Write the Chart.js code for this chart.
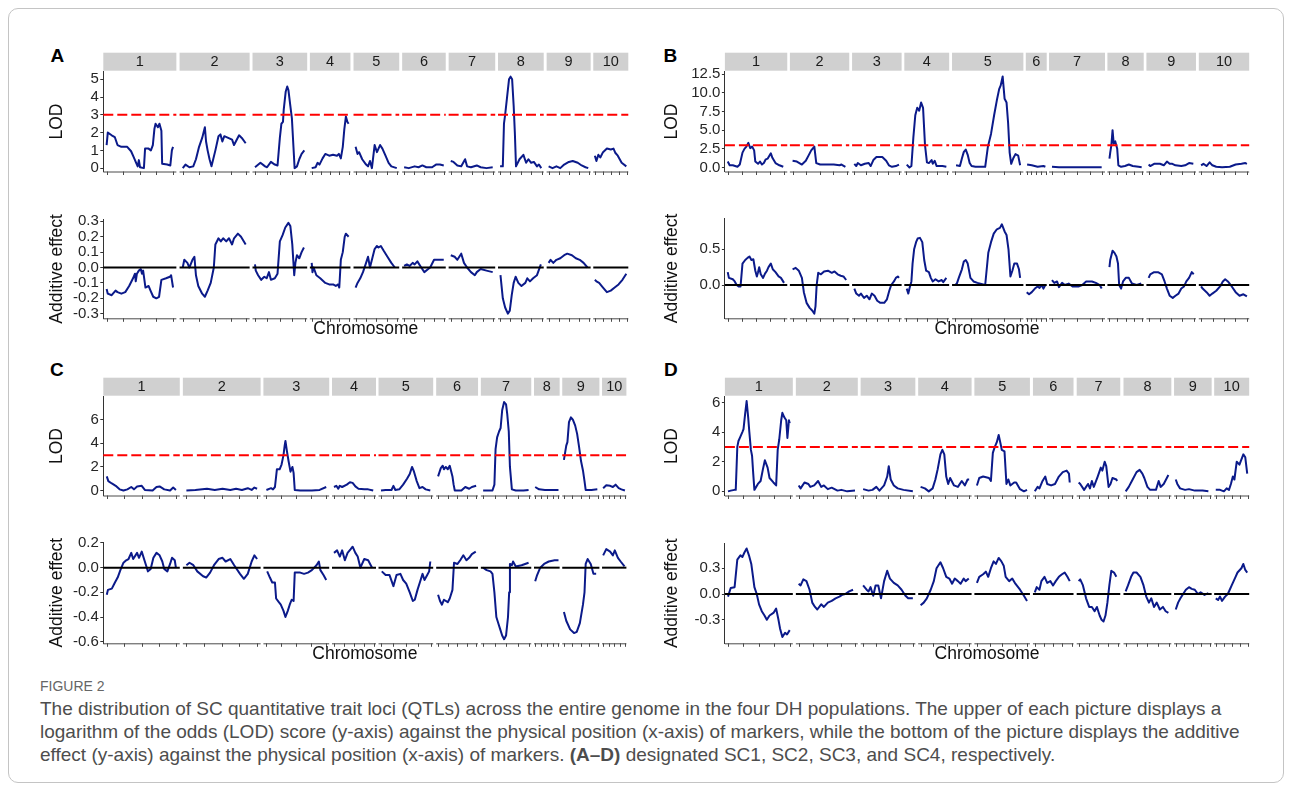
<!DOCTYPE html>
<html>
<head>
<meta charset="utf-8">
<script src="https://cdn.jsdelivr.net/npm/chart.js@4.4.1/dist/chart.umd.min.js"></script>
<style>
  body { margin: 0; width: 1292px; height: 791px; background: #fff; position: relative; overflow: hidden;
         font-family: 'Liberation Sans', Arial, sans-serif; }
  #frame { position: absolute; left: 8px; top: 8px; width: 1276px; height: 775px; box-sizing: border-box;
           border: 1px solid #c4c4c4; border-radius: 10px; }
  canvas { position: absolute; }
  .letter { position: absolute; font-weight: bold; font-size: 19px; line-height: 19px; color: #000; }
  #figlabel { position: absolute; left: 40px; top: 677px; font-size: 14px; line-height: 18px; color: #666; }
  #caption { position: absolute; left: 40px; top: 697px; font-size: 19px; line-height: 23px; color: #4d4d4d; white-space: nowrap; }
</style>
</head>
<body>
<div id="frame"></div>
<div class="letter" style="left:50.5px;top:45.7px">A</div>
<div class="letter" style="left:663.5px;top:45.7px">B</div>
<div class="letter" style="left:50px;top:359.7px">C</div>
<div class="letter" style="left:664px;top:359.7px">D</div>
<canvas id="lodA"></canvas>
<canvas id="addA"></canvas>
<canvas id="lodB"></canvas>
<canvas id="addB"></canvas>
<canvas id="lodC"></canvas>
<canvas id="addC"></canvas>
<canvas id="lodD"></canvas>
<canvas id="addD"></canvas>
<div id="figlabel">FIGURE 2</div>
<div id="caption">The distribution of SC quantitative trait loci (QTLs) across the entire genome in the four DH populations. The upper of each picture displays a<br>logarithm of the odds (LOD) score (y-axis) against the physical position (x-axis) of markers, while the bottom of the picture displays the additive<br>effect (y-axis) against the physical position (x-axis) of markers. <b>(A–D)</b> designated SC1, SC2, SC3, and SC4, respectively.</div>
<script>
'use strict';
const chromLabels = ['1', '2', '3', '4', '5', '6', '7', '8', '9', '10'];
const lodThreshold = 3;

// first / last marker of every chromosome, genome-wide position
const chrA = [[172,343],[368,532],[554,682],[700,795],[813,920],[938,1040],[1058,1167],[1185,1292],[1310,1413],[1429,1511]];
const chrB = [[187,333],[354,493],[513,629],[647,752],[773,940],[957,1006],[1021,1152],[1169,1254],[1271,1387],[1406,1524]];
const chrC = [[172,351],[377,559],[583,737],[757,860],[878,1006],[1025,1123],[1141,1259],[1275,1335],[1349,1436],[1450,1507]];
const chrD = [[188,347],[370,515],[536,664],[684,809],[829,959],[978,1073],[1091,1193],[1212,1324],[1341,1429],[1444,1526]];

// y tick values
const lodTicksA = [0, 1, 2, 3, 4, 5];
const addTicksA = [-0.3, -0.2, -0.1, 0, 0.1, 0.2, 0.3];
const lodTicksB = [0, 2.5, 5, 7.5, 10, 12.5];
const addTicksB = [0, 0.5];
const lodTicksC = [0, 2, 4, 6];
const addTicksC = [-0.6, -0.4, -0.2, 0, 0.2];
const lodTicksD = [0, 2, 4, 6];
const addTicksD = [-0.3, 0, 0.3];

// SC1
const lodA = [
  [[172,1.3],[175,2.0],[185,1.85],[193,1.75],[200,1.3],[210,1.2],[225,1.2],[235,0.95],[242,0.6],[248,0.3],[252,0.1],[255,0.45],[258,0.05],[268,0.0],[271,1.1],[280,1.1],[286,1.0],[291,1.3],[295,2.2],[298,2.5],[304,2.3],[308,2.5],[313,2.1],[315,0.25],[328,0.2],[336,0.15],[340,1.0],[343,1.2]],
  [[368,0.0],[375,0.2],[385,0.05],[395,0.1],[402,0.5],[410,1.2],[418,1.7],[425,2.3],[428,1.5],[432,1.0],[437,0.5],[442,0.1],[452,1.0],[460,1.8],[465,1.9],[470,1.5],[475,1.8],[485,1.7],[495,1.6],[500,1.3],[507,1.6],[513,1.85],[520,1.7],[530,1.4]],
  [[554,0.05],[568,0.3],[580,0.1],[585,0.05],[595,0.35],[605,0.2],[612,0.15],[618,1.7],[622,2.5],[626,2.6],[628,3.3],[633,4.3],[637,4.6],[640,4.4],[645,3.5],[649,2.8],[653,1.2],[656,0.0],[662,0.1],[668,0.5],[674,0.8],[681,1.0]],
  [[700,0.0],[710,0.05],[715,0.3],[720,0.2],[728,0.55],[735,0.8],[745,0.7],[755,0.75],[765,0.7],[770,0.8],[775,0.55],[780,1.2],[784,2.2],[788,2.9],[792,2.6],[795,2.5]],
  [[813,1.2],[818,0.8],[822,0.9],[830,0.5],[840,0.2],[845,0.1],[850,0.4],[855,0.0],[862,1.3],[868,0.9],[876,1.3],[882,1.1],[890,0.7],[898,0.3],[905,0.1],[919,0.0]],
  [[938,0.05],[950,0.0],[965,0.1],[975,0.05],[985,0.15],[995,0.05],[1010,0.05],[1020,0.2],[1030,0.2],[1040,0.15]],
  [[1058,0.4],[1065,0.35],[1075,0.15],[1085,0.1],[1095,0.5],[1100,0.1],[1110,0.05],[1125,0.15],[1135,0.05],[1150,0.0],[1166,0.05]],
  [[1185,0.1],[1192,0.1],[1195,2.5],[1198,3.0],[1203,4.0],[1208,5.0],[1212,5.15],[1216,5.0],[1220,3.5],[1223,2.0],[1226,0.1],[1235,0.5],[1245,0.75],[1252,0.3],[1258,0.5],[1265,0.3],[1272,0.35],[1280,0.1],[1285,0.2],[1291,0.0]],
  [[1310,0.1],[1320,0.0],[1330,0.1],[1340,0.0],[1350,0.2],[1362,0.35],[1372,0.4],[1385,0.3],[1395,0.15],[1405,0.05],[1412,0.0]],
  [[1429,0.7],[1433,0.4],[1438,0.75],[1443,0.6],[1450,0.9],[1460,1.1],[1470,1.05],[1477,1.1],[1482,0.85],[1488,0.7],[1498,0.3],[1510,0.1]]
];
const addA = [
  [[172,-0.14],[175,-0.17],[185,-0.18],[195,-0.15],[200,-0.16],[210,-0.17],[220,-0.16],[230,-0.12],[240,-0.07],[245,-0.04],[247,-0.09],[250,-0.04],[255,-0.02],[260,-0.01],[263,-0.04],[266,-0.02],[272,-0.13],[280,-0.12],[285,-0.15],[292,-0.19],[300,-0.2],[307,-0.19],[313,-0.08],[325,-0.07],[335,-0.06],[338,-0.05],[343,-0.13]],
  [[368,0.0],[372,0.05],[380,0.03],[385,0.0],[393,0.05],[398,0.07],[402,-0.05],[408,-0.12],[418,-0.17],[425,-0.19],[432,-0.15],[440,-0.1],[448,0.0],[452,0.15],[460,0.19],[466,0.17],[472,0.19],[480,0.17],[487,0.19],[495,0.15],[500,0.19],[510,0.22],[518,0.2],[530,0.15]],
  [[554,0.02],[556,-0.02],[562,-0.05],[570,-0.08],[578,-0.06],[584,-0.07],[590,-0.03],[595,-0.08],[605,-0.07],[612,-0.04],[618,0.17],[625,0.21],[632,0.26],[640,0.29],[645,0.27],[650,0.15],[655,-0.05],[658,0.03],[662,0.08],[668,0.06],[674,0.1],[680,0.13]],
  [[700,0.03],[702,-0.03],[705,0.0],[712,-0.05],[722,-0.07],[735,-0.1],[745,-0.11],[755,-0.11],[762,-0.12],[768,-0.11],[771,-0.13],[775,0.05],[780,0.1],[785,0.2],[788,0.22],[795,0.2]],
  [[813,-0.13],[818,-0.1],[825,-0.07],[832,-0.03],[840,0.03],[845,0.07],[850,0.0],[855,0.05],[862,0.12],[868,0.14],[872,0.13],[878,0.14],[885,0.11],[895,0.07],[905,0.03],[914,0.0]],
  [[938,0.01],[945,0.02],[952,0.01],[960,0.03],[965,0.02],[972,0.04],[982,0.0],[990,-0.03],[1000,-0.01],[1005,0.0],[1015,0.05],[1030,0.05],[1040,0.05]],
  [[1058,0.08],[1068,0.07],[1075,0.05],[1085,0.09],[1092,0.03],[1100,0.0],[1110,-0.03],[1120,-0.05],[1125,-0.03],[1135,-0.01],[1150,-0.02],[1166,-0.03]],
  [[1186,-0.05],[1192,-0.2],[1198,-0.26],[1205,-0.3],[1210,-0.28],[1215,-0.18],[1220,-0.1],[1225,-0.06],[1232,-0.1],[1240,-0.12],[1250,-0.1],[1255,-0.07],[1262,-0.09],[1270,-0.07],[1280,-0.05],[1290,0.02]],
  [[1310,0.03],[1315,0.05],[1322,0.03],[1330,0.05],[1340,0.06],[1350,0.08],[1358,0.09],[1370,0.08],[1380,0.06],[1390,0.05],[1400,0.03],[1410,0.0]],
  [[1429,-0.08],[1433,-0.09],[1440,-0.1],[1450,-0.13],[1460,-0.16],[1470,-0.15],[1480,-0.13],[1490,-0.11],[1500,-0.08],[1510,-0.04]]
];

// SC2
const lodB = [
  [[187,0.8],[192,0.3],[200,0.3],[212,0.1],[218,0.4],[225,2.0],[230,2.5],[235,2.8],[240,3.3],[245,2.6],[250,2.8],[255,2.3],[258,0.8],[265,0.5],[270,0.8],[275,0.4],[280,0.6],[285,1.1],[290,1.2],[298,1.9],[302,1.3],[310,0.6],[320,0.3],[330,0.1]],
  [[354,0.9],[365,0.8],[378,0.4],[388,0.9],[395,1.6],[402,2.3],[410,2.8],[415,0.6],[425,0.4],[445,0.4],[460,0.4],[475,0.3],[480,0.4],[490,0.1]],
  [[513,0.5],[518,0.2],[522,0.6],[530,0.3],[540,0.5],[550,0.6],[555,0.2],[562,1.0],[570,1.4],[585,1.4],[595,0.9],[602,0.3],[610,0.1],[620,0.2],[628,0.4]],
  [[648,0.4],[655,0.0],[660,0.2],[665,4.0],[670,7.0],[675,8.0],[680,7.6],[685,8.7],[690,8.0],[695,3.0],[700,0.7],[705,0.6],[712,1.0],[715,0.5],[720,0.9],[725,0.2],[740,0.2],[750,0.1]],
  [[775,0.3],[785,0.2],[790,1.2],[795,2.1],[800,2.4],[805,1.7],[810,0.6],[815,0.2],[825,0.1],[850,0.1],[857,2.8],[865,4.5],[873,7.0],[880,9.0],[886,10.5],[890,11.0],[895,12.2],[900,9.2],[905,8.7],[909,6.0],[913,2.0],[917,0.5],[922,1.2],[928,1.8],[935,1.6],[940,0.3]],
  [[958,0.4],[970,0.3],[985,0.1],[1000,0.2],[1005,0.1]],
  [[1022,0.1],[1040,0.05],[1080,0.05],[1120,0.05],[1150,0.05]],
  [[1170,1.2],[1172,2.0],[1175,3.0],[1178,5.0],[1181,3.2],[1185,3.5],[1190,2.5],[1193,0.3],[1200,0.1],[1210,0.2],[1220,0.4],[1230,0.2],[1245,0.1],[1253,0.05]],
  [[1271,0.4],[1275,0.2],[1285,0.5],[1300,0.5],[1310,0.3],[1318,0.8],[1325,0.5],[1332,0.5],[1340,0.3],[1355,0.2],[1365,0.3],[1375,0.6],[1386,0.5]],
  [[1406,0.3],[1412,0.5],[1420,0.2],[1428,0.7],[1435,0.3],[1445,0.1],[1460,0.05],[1480,0.1],[1495,0.4],[1510,0.5],[1520,0.6],[1524,0.5]]
];
const addB = [
  [[187,0.18],[190,0.1],[200,0.08],[205,0.05],[210,0.0],[215,-0.02],[220,-0.02],[225,0.3],[232,0.35],[238,0.38],[243,0.4],[248,0.35],[253,0.36],[258,0.2],[262,0.12],[265,0.18],[268,0.25],[272,0.15],[278,0.1],[283,0.16],[288,0.2],[292,0.25],[298,0.3],[303,0.22],[310,0.18],[318,0.12],[324,0.1],[332,0.03]],
  [[354,0.22],[362,0.24],[370,0.2],[378,0.1],[383,-0.1],[390,-0.25],[398,-0.32],[405,-0.36],[410,-0.4],[413,-0.3],[416,0.0],[420,0.17],[427,0.15],[435,0.19],[445,0.2],[455,0.17],[462,0.19],[470,0.15],[478,0.13],[485,0.12],[492,0.07]],
  [[513,-0.05],[518,-0.12],[525,-0.15],[530,-0.12],[538,-0.18],[545,-0.15],[552,-0.2],[558,-0.12],[565,-0.15],[572,-0.22],[580,-0.25],[590,-0.25],[597,-0.2],[603,-0.08],[608,0.0],[615,0.05],[620,0.1],[625,0.12],[628,0.1]],
  [[648,-0.05],[652,-0.12],[655,-0.05],[660,0.05],[663,0.3],[667,0.5],[672,0.6],[676,0.65],[682,0.66],[688,0.6],[693,0.35],[698,0.2],[705,0.18],[710,0.1],[715,0.05],[722,0.08],[730,0.05],[738,0.07],[742,0.04],[750,0.1]],
  [[773,0.0],[777,0.02],[782,0.1],[790,0.22],[795,0.33],[800,0.35],[805,0.3],[812,0.1],[820,0.05],[830,0.03],[850,0.0],[858,0.45],[865,0.6],[872,0.72],[880,0.78],[888,0.8],[893,0.85],[900,0.75],[905,0.7],[910,0.5],[915,0.12],[920,0.2],[925,0.3],[932,0.3],[937,0.22],[940,0.1]],
  [[957,-0.1],[963,-0.13],[970,-0.1],[978,-0.05],[985,-0.02],[990,-0.04],[995,0.0],[1000,-0.05],[1005,0.0]],
  [[1022,0.07],[1028,0.03],[1035,0.05],[1040,-0.03],[1048,0.03],[1055,0.0],[1065,0.02],[1075,-0.02],[1090,-0.02],[1100,0.0],[1110,0.05],[1125,0.05],[1135,0.03],[1145,0.0],[1150,-0.05]],
  [[1170,0.25],[1172,0.35],[1178,0.48],[1183,0.45],[1188,0.4],[1192,0.3],[1195,0.0],[1200,-0.05],[1205,0.05],[1212,0.1],[1220,0.1],[1228,0.02],[1240,0.0],[1252,0.02]],
  [[1271,0.1],[1275,0.15],[1285,0.18],[1295,0.18],[1305,0.15],[1312,0.05],[1318,-0.05],[1325,-0.15],[1333,-0.18],[1340,-0.15],[1348,-0.12],[1355,-0.05],[1362,-0.02],[1368,0.05],[1375,0.1],[1382,0.18],[1387,0.15]],
  [[1406,-0.02],[1410,-0.05],[1420,-0.1],[1428,-0.15],[1435,-0.12],[1445,-0.08],[1455,-0.02],[1462,0.05],[1468,0.08],[1475,0.05],[1485,-0.02],[1495,-0.1],[1505,-0.15],[1515,-0.13],[1524,-0.16]]
];

// SC3
const lodC = [
  [[172,1.2],[176,0.8],[185,0.6],[195,0.4],[205,0.1],[215,0.0],[225,0.1],[235,0.3],[242,0.1],[250,0.35],[262,0.4],[270,0.05],[290,0.0],[300,0.3],[308,0.35],[320,0.1],[335,0.0],[343,0.25],[350,0.05]],
  [[377,0.0],[400,0.05],[430,0.15],[450,0.05],[470,0.15],[490,0.05],[505,0.15],[520,0.05],[535,0.2],[545,0.05],[552,0.25],[559,0.15]],
  [[583,0.05],[595,0.2],[600,0.1],[605,0.3],[610,1.8],[617,1.8],[622,2.2],[627,3.0],[630,3.8],[632,4.2],[636,3.3],[640,2.5],[645,1.6],[650,2.0],[653,1.5],[656,0.05],[670,0.0],[700,0.0],[720,0.05],[737,0.3]],
  [[757,0.3],[763,0.4],[768,0.15],[772,0.4],[778,0.3],[790,0.5],[798,0.7],[805,0.65],[812,0.35],[820,0.15],[835,0.1],[845,0.1],[858,0.0]],
  [[878,0.0],[890,0.05],[905,0.05],[910,0.4],[915,0.05],[925,0.1],[935,0.5],[945,1.0],[952,1.4],[958,2.0],[963,1.6],[970,0.8],[977,0.2],[985,0.3],[993,0.1],[1005,0.0]],
  [[1025,1.2],[1032,1.9],[1037,2.1],[1040,1.8],[1045,2.0],[1050,1.8],[1055,2.1],[1062,1.2],[1065,0.5],[1068,0.0],[1085,0.0],[1095,0.3],[1105,0.15],[1112,0.3],[1123,0.4]],
  [[1141,0.0],[1165,0.0],[1170,0.5],[1173,3.5],[1177,4.5],[1182,5.0],[1186,5.3],[1190,6.8],[1195,7.5],[1200,7.3],[1203,6.5],[1207,5.0],[1210,2.0],[1215,0.1],[1225,0.0],[1245,0.0],[1258,0.05]],
  [[1275,0.3],[1285,0.1],[1300,0.05],[1320,0.05],[1335,0.05]],
  [[1349,2.6],[1355,3.8],[1358,4.1],[1362,5.8],[1367,6.2],[1372,6.0],[1378,5.5],[1383,4.8],[1388,3.7],[1393,2.5],[1398,1.7],[1402,0.8],[1405,0.05],[1420,0.05],[1435,0.1]],
  [[1450,0.2],[1458,0.45],[1468,0.4],[1475,0.3],[1482,0.5],[1490,0.2],[1497,0.1],[1506,0.0]]
];
const addC = [
  [[172,-0.22],[175,-0.18],[185,-0.17],[193,-0.12],[200,-0.08],[207,-0.02],[215,0.04],[222,0.06],[228,0.07],[235,0.12],[240,0.07],[250,0.12],[255,0.08],[262,0.13],[270,0.05],[278,-0.03],[285,-0.01],[292,0.08],[300,0.12],[308,0.1],[315,0.05],[320,-0.01],[328,-0.03],[335,0.03],[340,0.08],[347,0.06],[350,0.0]],
  [[377,0.02],[385,0.04],[395,0.02],[405,-0.03],[420,-0.07],[428,-0.08],[438,-0.04],[448,0.02],[460,0.07],[470,0.08],[478,0.05],[490,0.07],[500,0.02],[515,-0.05],[525,-0.09],[535,-0.05],[545,0.05],[552,0.1],[559,0.07]],
  [[585,-0.03],[592,-0.08],[598,-0.12],[605,-0.12],[608,-0.25],[615,-0.28],[620,-0.3],[627,-0.35],[632,-0.4],[638,-0.35],[643,-0.3],[648,-0.26],[653,-0.27],[656,-0.04],[670,-0.04],[680,-0.05],[690,-0.04],[700,-0.02],[712,0.02],[718,0.05],[722,-0.02],[730,-0.06],[737,-0.1]],
  [[757,0.12],[765,0.14],[772,0.09],[778,0.14],[785,0.06],[792,0.12],[800,0.15],[805,0.17],[812,0.12],[818,0.09],[825,0.0],[835,0.07],[845,0.06],[855,0.0]],
  [[880,-0.03],[890,-0.06],[900,-0.06],[910,-0.15],[918,-0.06],[928,-0.05],[935,-0.1],[943,-0.13],[952,-0.2],[960,-0.27],[965,-0.26],[972,-0.18],[978,-0.12],[985,-0.05],[990,-0.1],[997,-0.06],[1002,-0.03],[1005,0.05]],
  [[1025,-0.22],[1030,-0.27],[1035,-0.3],[1040,-0.26],[1050,-0.28],[1055,-0.25],[1062,-0.18],[1066,0.04],[1075,0.03],[1082,0.06],[1090,0.1],[1098,0.06],[1105,0.08],[1112,0.11],[1122,0.13]],
  [[1141,0.0],[1150,-0.02],[1160,-0.03],[1165,-0.05],[1170,-0.2],[1175,-0.4],[1180,-0.45],[1185,-0.5],[1190,-0.55],[1195,-0.58],[1200,-0.55],[1205,-0.4],[1208,-0.2],[1210,0.03],[1215,0.02],[1218,0.05],[1225,0.01],[1240,0.02],[1258,0.04]],
  [[1275,-0.11],[1280,-0.06],[1288,0.0],[1298,0.03],[1310,0.05],[1325,0.06],[1335,0.06]],
  [[1349,-0.36],[1355,-0.43],[1365,-0.5],[1375,-0.53],[1382,-0.52],[1390,-0.45],[1398,-0.3],[1402,-0.2],[1405,0.03],[1410,0.07],[1418,0.03],[1425,-0.05],[1432,-0.05]],
  [[1450,0.1],[1458,0.15],[1468,0.13],[1475,0.1],[1480,0.14],[1488,0.08],[1495,0.05],[1505,0.01]]
];

// SC4
const lodD = [
  [[188,0.0],[195,0.05],[205,0.1],[208,0.1],[212,3.0],[215,3.4],[220,3.7],[225,4.0],[228,4.2],[232,5.2],[236,6.1],[240,5.0],[243,4.0],[247,2.8],[250,2.4],[253,1.2],[256,0.1],[265,0.5],[272,0.7],[278,1.5],[283,2.1],[290,1.6],[295,0.9],[305,0.6],[312,0.4],[316,2.8],[320,3.5],[325,4.8],[328,5.3],[333,5.0],[338,4.8],[341,3.6],[345,4.8],[347,4.6]],
  [[370,0.4],[375,0.2],[385,0.6],[395,0.5],[400,0.3],[410,0.4],[420,0.7],[428,0.3],[435,0.4],[445,0.15],[455,0.25],[470,0.05],[480,0.1],[495,0.0],[515,0.05]],
  [[536,0.15],[550,0.05],[560,0.1],[570,0.3],[578,0.05],[590,0.4],[598,1.0],[602,1.7],[607,0.8],[615,0.4],[625,0.2],[640,0.1],[664,0.0]],
  [[684,0.3],[695,0.2],[705,0.0],[715,0.2],[722,0.8],[728,1.5],[735,2.5],[740,2.8],[745,2.5],[750,1.0],[755,0.5],[760,0.9],[770,0.4],[780,0.3],[790,0.7],[798,0.4],[805,0.8],[809,0.8]],
  [[829,0.4],[835,0.9],[845,1.0],[860,0.9],[865,0.7],[870,2.6],[875,3.0],[880,3.3],[885,3.8],[890,3.2],[893,2.8],[900,2.7],[905,0.5],[910,0.8],[915,0.4],[925,0.6],[930,0.6],[940,0.15],[950,0.0],[958,0.1]],
  [[978,0.0],[985,0.3],[990,0.2],[998,0.7],[1005,1.0],[1010,0.5],[1020,0.4],[1030,0.5],[1040,1.0],[1050,1.3],[1060,1.4],[1066,1.2],[1068,0.6]],
  [[1091,0.6],[1095,0.5],[1105,0.1],[1115,0.5],[1120,0.2],[1125,0.7],[1130,0.3],[1140,1.0],[1148,1.6],[1152,1.4],[1158,2.0],[1162,1.7],[1168,0.3],[1173,0.5],[1178,0.9],[1188,0.8],[1190,0.7]],
  [[1212,0.0],[1220,0.3],[1230,0.8],[1240,1.3],[1248,1.45],[1255,1.2],[1260,0.9],[1268,0.3],[1275,0.1],[1290,0.1],[1297,0.7],[1302,0.3],[1310,0.5],[1318,0.9],[1322,1.1]],
  [[1341,0.8],[1345,0.5],[1352,0.2],[1365,0.1],[1375,0.15],[1390,0.05],[1410,0.05],[1425,0.0]],
  [[1444,0.1],[1455,0.1],[1465,0.0],[1472,0.2],[1478,0.1],[1483,0.5],[1488,1.0],[1492,0.8],[1498,2.0],[1505,1.8],[1515,2.5],[1520,2.3],[1525,1.2]]
];
const addD = [
  [[188,-0.03],[195,0.07],[205,0.08],[212,0.4],[220,0.45],[225,0.43],[230,0.48],[236,0.53],[242,0.45],[248,0.35],[256,0.08],[262,0.0],[268,-0.12],[275,-0.2],[282,-0.25],[288,-0.3],[295,-0.25],[305,-0.22],[312,-0.17],[318,-0.3],[322,-0.4],[328,-0.5],[335,-0.45],[340,-0.47],[347,-0.42]],
  [[370,0.12],[375,0.1],[382,0.17],[390,0.15],[398,0.05],[405,-0.1],[412,-0.15],[418,-0.18],[428,-0.12],[435,-0.15],[445,-0.1],[455,-0.08],[465,-0.05],[475,-0.03],[482,-0.01],[490,0.0],[500,0.03],[510,0.05]],
  [[536,0.1],[545,0.05],[550,0.03],[555,0.08],[562,-0.02],[568,0.1],[575,0.1],[582,-0.05],[590,0.15],[598,0.27],[605,0.18],[615,0.13],[625,0.1],[635,0.05],[645,-0.02],[652,-0.05],[664,-0.05]],
  [[684,-0.13],[692,-0.1],[700,-0.05],[710,0.05],[718,0.15],[725,0.3],[735,0.37],[742,0.3],[750,0.2],[758,0.18],[765,0.12],[772,0.18],[780,0.15],[787,0.12],[795,0.18],[800,0.15],[808,0.18]],
  [[829,0.13],[835,0.2],[845,0.23],[852,0.26],[858,0.2],[865,0.3],[872,0.38],[878,0.35],[885,0.42],[892,0.38],[898,0.33],[903,0.2],[912,0.15],[920,0.18],[928,0.12],[940,0.05],[950,-0.02],[958,-0.08]],
  [[978,0.02],[983,0.08],[990,0.05],[995,0.15],[1003,0.2],[1010,0.13],[1018,0.15],[1025,0.1],[1032,0.15],[1040,0.2],[1048,0.23],[1055,0.25],[1062,0.2],[1068,0.15]],
  [[1091,0.15],[1095,0.17],[1102,0.1],[1110,-0.05],[1118,-0.15],[1125,-0.15],[1132,-0.2],[1138,-0.15],[1145,-0.25],[1150,-0.3],[1155,-0.32],[1160,-0.25],[1165,-0.1],[1170,0.1],[1175,0.27],[1182,0.25],[1188,0.2]],
  [[1212,0.03],[1218,0.1],[1226,0.2],[1232,0.25],[1240,0.25],[1250,0.2],[1258,0.1],[1265,-0.03],[1272,-0.1],[1278,-0.05],[1285,-0.15],[1292,-0.1],[1300,-0.18],[1308,-0.15],[1315,-0.2],[1322,-0.22]],
  [[1341,-0.18],[1347,-0.1],[1353,-0.05],[1360,0.0],[1367,0.05],[1375,0.08],[1382,0.06],[1390,0.05],[1398,0.0],[1405,0.02],[1415,-0.01],[1425,0.01]],
  [[1444,-0.05],[1450,-0.07],[1455,-0.03],[1460,-0.08],[1468,-0.03],[1475,0.0],[1480,0.05],[1485,0.1],[1490,0.15],[1495,0.2],[1500,0.25],[1510,0.3],[1515,0.35],[1520,0.28],[1525,0.25]]
];

const FONT = "'Liberation Sans', Arial, sans-serif";
Chart.defaults.font.family = FONT;

// one line, broken between chromosomes
function toPoints(segs) {
  const pts = [];
  segs.forEach((seg, i) => {
    if (i > 0) pts.push({x: seg[0][0], y: null});
    seg.forEach(p => pts.push({x: p[0], y: p[1]}));
  });
  return pts;
}

// facet = marker span plus 5% each side (ggplot expansion)
function facet(c) {
  const pad = (c[1] - c[0]) * 0.05;
  return [c[0] - pad, c[1] + pad];
}

const facetPlugin = {
  id: 'facets',
  afterDatasetsDraw(chart, args, o) {
    const ctx = chart.ctx;
    const a = chart.chartArea;
    const x = chart.scales.x, y = chart.scales.y;
    ctx.save();
    o.chroms.forEach((c, i) => {
      const f = facet(c);
      const x0 = x.getPixelForValue(f[0]);
      const x1 = x.getPixelForValue(f[1]);
      if (o.hline) {
        const yy = y.getPixelForValue(o.hline.value);
        ctx.strokeStyle = o.hline.color;
        ctx.lineWidth = 2;
        ctx.setLineDash(o.hline.dash);
        ctx.beginPath();
        ctx.moveTo(x0, yy);
        ctx.lineTo(x1, yy);
        ctx.stroke();
        ctx.setLineDash([]);
      }
      ctx.strokeStyle = '#4a4a4a';
      ctx.lineWidth = 1;
      ctx.beginPath();
      ctx.moveTo(x0, a.bottom + 0.5);
      ctx.lineTo(x1, a.bottom + 0.5);
      for (let k = 0; k <= 4; k++) {
        const tx = Math.round(x.getPixelForValue(c[0] + (c[1] - c[0]) * k / 4)) + 0.5;
        ctx.moveTo(tx, a.bottom);
        ctx.lineTo(tx, a.bottom + 3.5);
      }
      ctx.stroke();
      if (o.strips) {
        ctx.fillStyle = '#d0d0d0';
        ctx.fillRect(x0, a.top - 19, x1 - x0, 18);
        ctx.fillStyle = '#1a1a1a';
        ctx.font = '14.5px ' + FONT;
        ctx.textAlign = 'center';
        ctx.textBaseline = 'middle';
        ctx.fillText(chromLabels[i], (x0 + x1) / 2, a.top - 9.5);
      }
    });
    if (o.xTitle) {
      ctx.fillStyle = '#111';
      ctx.font = '17.5px ' + FONT;
      ctx.textAlign = 'center';
      ctx.textBaseline = 'middle';
      ctx.fillText(o.xTitle, (a.left + a.right) / 2, a.bottom + 11);
    }
    ctx.restore();
  }
};

const redLine = {value: lodThreshold, color: '#ff0000', dash: [10, 4]};
const zeroLine = {value: 0, color: '#000000', dash: []};

// box = canvas [left, top, width, height]; area = plot [left, top, right, bottom]
const plots = [
  {id: 'lodA', chroms: chrA, segs: lodA, ticks: lodTicksA, dec: 0, title: 'LOD', range: [-0.19, 5.43],
   box: [40, 44, 600, 138], area: [103.3, 71.7, 628.3, 171.7], titleX: 16.7, strips: true, hline: redLine},
  {id: 'addA', chroms: chrA, segs: addA, ticks: addTicksA, dec: 1, title: 'Additive effect', range: [-0.33, 0.312],
   box: [40, 205, 600, 135], area: [103.3, 219.5, 628.3, 318.3], titleX: 16.7, hline: zeroLine, xTitle: 'Chromosome'},
  {id: 'lodB', chroms: chrB, segs: lodB, ticks: lodTicksB, dec: 1, title: 'LOD', range: [-0.53, 12.83],
   box: [655, 44, 607, 138], area: [724.9, 71.7, 1249.2, 171.7], titleX: 17.3, strips: true, hline: redLine},
  {id: 'addB', chroms: chrB, segs: addB, ticks: addTicksB, dec: 1, title: 'Additive effect', range: [-0.466, 0.931],
   box: [655, 205, 607, 135], area: [724.9, 218.5, 1249.2, 318.3], titleX: 17.3, hline: zeroLine, xTitle: 'Chromosome'},
  {id: 'lodC', chroms: chrC, segs: lodC, ticks: lodTicksC, dec: 0, title: 'LOD', range: [-0.42, 7.95],
   box: [40, 362, 600, 144], area: [103.3, 396.7, 626.4, 496.7], titleX: 16.7, strips: true, hline: redLine},
  {id: 'addC', chroms: chrC, segs: addC, ticks: addTicksC, dec: 1, title: 'Additive effect', range: [-0.613, 0.208],
   box: [40, 528, 600, 138], area: [103.3, 542, 626.4, 643.3], titleX: 16.7, hline: zeroLine, xTitle: 'Chromosome'},
  {id: 'lodD', chroms: chrD, segs: lodD, ticks: lodTicksD, dec: 0, title: 'LOD', range: [-0.28, 6.39],
   box: [655, 362, 607, 144], area: [724.9, 396.7, 1249.2, 496.7], titleX: 17.3, strips: true, hline: redLine},
  {id: 'addD', chroms: chrD, segs: addD, ticks: addTicksD, dec: 1, title: 'Additive effect', range: [-0.573, 0.59],
   box: [655, 528, 607, 138], area: [724.9, 543.3, 1249.2, 643.3], titleX: 17.3, hline: zeroLine, xTitle: 'Chromosome'}
];

plots.forEach(p => {
  const cv = document.getElementById(p.id);
  cv.width = p.box[2];
  cv.height = p.box[3];
  cv.style.left = p.box[0] + 'px';
  cv.style.top = p.box[1] + 'px';
  const axisW = p.area[0] - p.box[0];
  const titleSize = 17.5;
  const first = facet(p.chroms[0]);
  const last = facet(p.chroms[p.chroms.length - 1]);
  new Chart(cv, {
    type: 'line',
    data: {
      datasets: [{
        data: toPoints(p.segs),
        borderColor: '#0b1a8a',
        borderWidth: 2,
        pointRadius: 0,
        tension: 0,
        spanGaps: false,
        borderJoinStyle: 'round'
      }]
    },
    options: {
      responsive: false,
      animation: false,
      layout: {
        padding: {
          left: 0,
          top: p.area[1] - p.box[1],
          right: p.box[0] + p.box[2] - p.area[2],
          bottom: p.box[1] + p.box[3] - p.area[3]
        }
      },
      plugins: {
        legend: {display: false},
        tooltip: {enabled: false},
        facets: {chroms: p.chroms, strips: p.strips, hline: p.hline, xTitle: p.xTitle}
      },
      scales: {
        x: {type: 'linear', display: false, min: first[0], max: last[1]},
        y: {
          min: p.range[0],
          max: p.range[1],
          afterFit: s => { s.width = axisW; },
          afterBuildTicks: s => { s.ticks = p.ticks.map(v => ({value: v})); },
          ticks: {
            autoSkip: false,
            callback: v => Number(v).toFixed(p.dec),
            font: {size: 15},
            color: '#262626',
            padding: 1.5
          },
          grid: {drawOnChartArea: false, drawTicks: true, tickLength: 3, color: '#333'},
          border: {display: true, color: '#333', width: 1},
          title: {
            display: true,
            text: p.title,
            color: '#111',
            font: {size: titleSize},
            padding: {top: p.titleX - titleSize * 0.6, bottom: 0}
          }
        }
      }
    },
    plugins: [facetPlugin]
  });
});
</script>
</body>
</html>
